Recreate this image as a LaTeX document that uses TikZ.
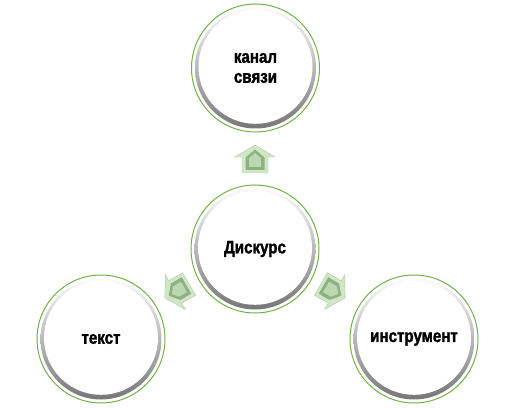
\documentclass[tikz,border=0pt]{standalone}
\usepackage{fontspec}
\setmainfont{Liberation Sans}[FakeStretch=0.84, BoldFeatures={FakeStretch=0.84,FakeBold=1.6}]
\definecolor{ringgreen}{RGB}{112,178,72}
\definecolor{arrLight}{RGB}{208,230,198}
\definecolor{arrEdge}{RGB}{170,204,158}
\definecolor{arrDark}{RGB}{140,178,130}
\definecolor{arrMid}{RGB}{188,216,176}
\tikzset{
  ring/.style={circle, minimum size=128pt, inner sep=0pt, draw=ringgreen, line width=1pt,
    fill=white, align=center, font=\fontsize{18}{20}\selectfont\bfseries,
    path picture={
      \fill[top color=white, bottom color=black!55] (path picture bounding box.center) circle (60.5pt);
      \fill[white] ([yshift=1.2pt]path picture bounding box.center) circle (57pt);
    }},
  arrowpic/.pic={
    \fill[arrLight, draw=arrEdge, line width=0.4pt] (0,14) -- (20,2) -- (13,2) -- (13,-14) -- (-13,-14) -- (-13,2) -- (-20,2) -- cycle;
    \fill[arrDark] (0,9.5) -- (9.5,1.5) -- (9.5,-11) -- (-9.5,-11) -- (-9.5,1.5) -- cycle;
    \fill[arrMid] (0,6) -- (6,1) -- (6,-8) -- (-6,-8) -- (-6,1) -- cycle;
  }
}
\begin{document}
\begin{tikzpicture}[x=1pt,y=1pt]
\useasboundingbox (0,0) rectangle (508,407);
\node[ring] (top) at (255.5,339) {канал\\связи};
\node[ring] (mid) at (255,158) {Дискурс};
\node[ring] (left) at (101,68) {текст};
\node[ring] (right) at (414,68) {инструмент};
\pic at (255,248) {arrowpic};
\pic[rotate=120] at (177,116) {arrowpic};
\pic[rotate=-120] at (333,116) {arrowpic};
\end{tikzpicture}
\end{document}
